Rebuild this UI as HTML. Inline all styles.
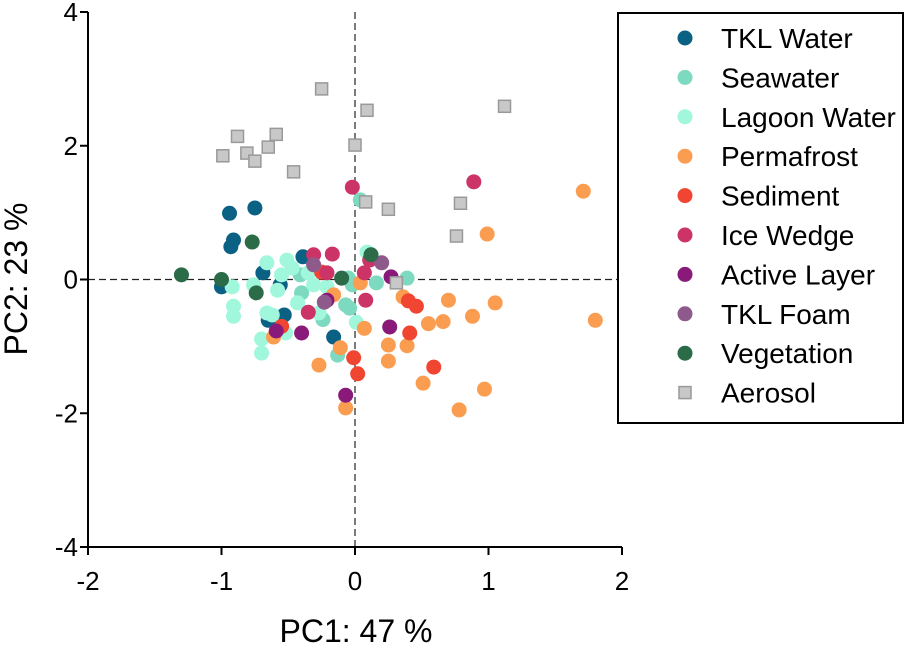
<!DOCTYPE html>
<html><head><meta charset="utf-8"><style>
body{margin:0;background:#fff;font-family:"Liberation Sans",Arial,sans-serif}
svg text{font-family:"Liberation Sans",Arial,sans-serif}
</style></head><body>
<svg id="chart" width="917" height="644" xmlns="http://www.w3.org/2000/svg"></svg>
<script>
const xTicks=[-2,-1,0,1,2];
const yTicks=[-4,-2,0,2,4];
const groupNames=["TKL Water","Seawater","Lagoon Water","Permafrost","Sediment","Ice Wedge","Active Layer","TKL Foam","Vegetation","Aerosol"];
const groupColors=["#0b6184","#7dd9bf","#a0f7dc","#fb9d50","#f04530","#cc3366","#8a1a7a","#8e5a8c","#2b6b47","#c8c8c8"];
const tklWaterX=[-0.94,-0.75,-0.91,-0.93,-0.39,-0.69,-1.0,-0.56,-0.53,-0.65,-0.16];
const tklWaterY=[0.99,1.07,0.59,0.49,0.34,0.10,-0.11,-0.08,-0.53,-0.61,-0.86];
const seawaterX=[0.04,-0.05,-0.02,0.16,0.39,-0.40,-0.07,-0.04,-0.24,-0.13,-0.41];
const seawaterY=[1.19,0.02,-0.08,-0.05,0.02,-0.2,-0.38,-0.43,-0.6,-1.13,0.07];
const lagoonX=[-0.66,-0.51,-0.47,-0.55,-0.58,-0.76,-0.92,-0.91,-0.91,-0.66,-0.62,-0.70,-0.70,-0.52,-0.43,-0.31,-0.27,-0.21,-0.35,0.01,0.09];
const lagoonY=[0.25,0.29,0.17,0.07,-0.16,-0.08,-0.11,-0.4,-0.55,-0.5,-0.53,-0.89,-1.1,-0.8,-0.35,-0.08,-0.5,-0.11,0.1,-0.64,0.41];
const permafrostX=[0.04,-0.16,0.07,-0.11,-0.27,-0.07,-0.61,0.25,0.39,0.25,0.36,0.51,0.55,1.71,0.99,0.70,1.05,0.88,0.66,1.80,0.97,0.78];
const permafrostY=[-0.05,-0.23,-0.73,-1.02,-1.28,-1.92,-0.86,-0.98,-0.99,-1.22,-0.26,-1.55,-0.66,1.32,0.68,-0.31,-0.35,-0.55,-0.63,-0.61,-1.64,-1.95];
const sedimentX=[-0.25,-0.55,-0.01,0.02,0.40,0.46,0.41,0.59];
const sedimentY=[0.11,-0.7,-1.17,-1.41,-0.32,-0.4,-0.8,-1.31];
const iceWedgeX=[-0.02,-0.31,-0.17,-0.21,0.07,0.11,0.08,-0.35,0.89];
const iceWedgeY=[1.38,0.37,0.38,0.1,0.1,0.29,-0.31,-0.49,1.46];
const activeLayerX=[0.27,-0.21,0.26,-0.40,-0.59,-0.07];
const activeLayerY=[0.04,-0.31,-0.71,-0.8,-0.77,-1.73];
const foamX=[-0.31,0.2,-0.23];
const foamY=[0.22,0.25,-0.34];
const vegetationX=[-1.30,-1.0,-0.77,-0.74,-0.10,0.12];
const vegetationY=[0.07,0.0,0.56,-0.2,0.02,0.37];
const aerosolX=[-0.25,0.09,1.12,-0.88,-0.59,-0.99,-0.81,-0.65,-0.75,-0.46,0.0,0.08,0.25,0.79,0.76,0.31];
const aerosolY=[2.85,2.53,2.59,2.14,2.17,1.85,1.89,1.98,1.77,1.61,2.01,1.16,1.05,1.14,0.65,-0.05];
const seriesX=[tklWaterX,seawaterX,lagoonX,permafrostX,sedimentX,iceWedgeX,activeLayerX,foamX,vegetationX,aerosolX];
const seriesY=[tklWaterY,seawaterY,lagoonY,permafrostY,sedimentY,iceWedgeY,activeLayerY,foamY,vegetationY,aerosolY];

const NS="http://www.w3.org/2000/svg";
const svg=document.getElementById('chart');
const L=88,R=622,T=12,B=547;
const sx=v=>L+(v+2)/4*(R-L);
const sy=v=>B-(v+4)/8*(B-T);
function mk(tag,attrs,parent){const e=document.createElementNS(NS,tag);for(const k in attrs)e.setAttribute(k,attrs[k]);(parent||svg).appendChild(e);return e;}

let e=mk('line',{x1:L,x2:R,y1:sy(0),y2:sy(0),stroke:'#222','stroke-width':1.2,'stroke-dasharray':'7,4'});


e=mk('line',{x1:sx(0),x2:sx(0),y1:T,y2:B,stroke:'#222','stroke-width':1.2,'stroke-dasharray':'7,4'});



for(let g=0;g<seriesX.length;g++){
  const xs=seriesX[g],ys=seriesY[g];
  for(let i=0;i<xs.length;i++){
    let p;
    if(g===9){
      p=mk('rect',{x:sx(xs[i])-6,y:sy(ys[i])-6,width:12,height:12,fill:groupColors[g],stroke:'#999','stroke-width':1.5});
    }else{
      p=mk('circle',{cx:sx(xs[i]),cy:sy(ys[i]),r:7.5,fill:groupColors[g]});
    }
    
    
  }
}

e=mk('line',{x1:L,x2:R,y1:B,y2:B,stroke:'#000','stroke-width':2});


e=mk('line',{x1:L,x2:L,y1:T,y2:B,stroke:'#000','stroke-width':2});


xTicks.forEach(v=>{
  const t=mk('line',{x1:sx(v),x2:sx(v),y1:B,y2:B+8,stroke:'#000','stroke-width':2});
  
  
  const tx=mk('text',{x:sx(v),y:B+43,'text-anchor':'middle','font-size':26,fill:'#000'});
  tx.textContent=v;
  
  
});
yTicks.forEach(v=>{
  const t=mk('line',{x1:L-8,x2:L,y1:sy(v),y2:sy(v),stroke:'#000','stroke-width':2});
  
  
  const tx=mk('text',{x:L-10,y:sy(v)+9,'text-anchor':'end','font-size':26,fill:'#000'});
  tx.textContent=v;
  
  
});
e=mk('text',{x:356,y:642,'text-anchor':'middle','font-size':32,fill:'#000'});
e.textContent='PC1: 47 %';


e=mk('text',{x:0,y:0,'text-anchor':'middle','font-size':32,fill:'#000',transform:'translate(27,279) rotate(-90)'});
e.textContent='PC2: 23 %';



const lg=mk('g',{});


mk('rect',{x:618,y:13,width:285,height:410,fill:'#fff',stroke:'#000','stroke-width':2},lg);
groupNames.forEach((n,i)=>{
  const y=38+i*39.4;
  const it=mk('g',{},lg);
  
  
  if(i===9) mk('rect',{x:679,y:y-6,width:12,height:12,fill:groupColors[i],stroke:'#999','stroke-width':1.5},it);
  else mk('circle',{cx:685,cy:y,r:7.5,fill:groupColors[i]},it);
  const t=mk('text',{x:721,y:y+10,'font-size':28,fill:'#000'},it);
  t.textContent=n;
});
</script>
</body></html>
